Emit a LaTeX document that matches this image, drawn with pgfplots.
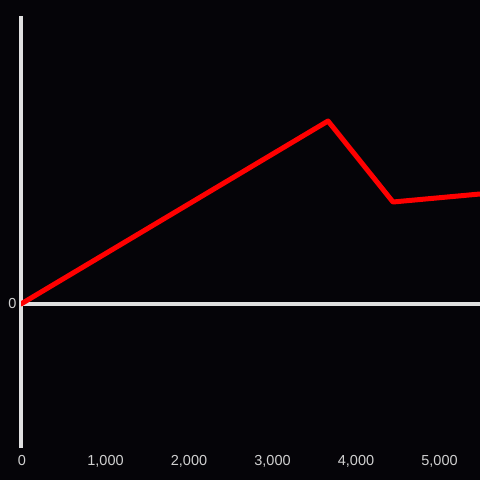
\documentclass[border=0pt]{standalone}
\usepackage{pgfplots}
\pgfplotsset{compat=1.18}
\usepackage{fontspec}
\setmainfont{Liberation Sans}
\definecolor{bg}{HTML}{050408}
\definecolor{axc}{HTML}{E0E0E0}
\definecolor{lab}{HTML}{D0D0D0}
\definecolor{ln}{HTML}{FF0000}
\begin{document}
\begin{tikzpicture}
\fill[bg] (0,0) rectangle (480bp,480bp);
\begin{axis}[
  at={(21bp,32bp)}, anchor=south west,
  scale only axis, width=459bp, height=432bp,
  xmin=0, xmax=5497, ymin=-144, ymax=288,
  axis x line=bottom, axis y line=left,
  x axis line style={draw=none,-},
  y axis line style={draw=axc, line width=3.2bp,-},
  xtick={0,1000,2000,3000,4000,5000},
  ytick={0},
  major tick length=0pt,
  tick style={draw=none},
  /pgf/number format/1000 sep={,},
  /pgf/number format/assume math mode=true,
  ticklabel style={font=\fontsize{14.5bp}{16bp}\selectfont, text=lab},
  xticklabel style={yshift=-4bp, xshift=1bp},
  yticklabel style={xshift=-1bp},
]
\draw[axc, line width=3.2bp] (axis cs:0,0) -- (axis cs:5497,0);
\addplot[ln, line width=5bp, line join=round, line cap=round] coordinates {
 (0,0) (3677,183) (4455,102) (5497,110)
};
\end{axis}
\pgfresetboundingbox
\path (0,0) rectangle (480bp,480bp);
\end{tikzpicture}
\end{document}
